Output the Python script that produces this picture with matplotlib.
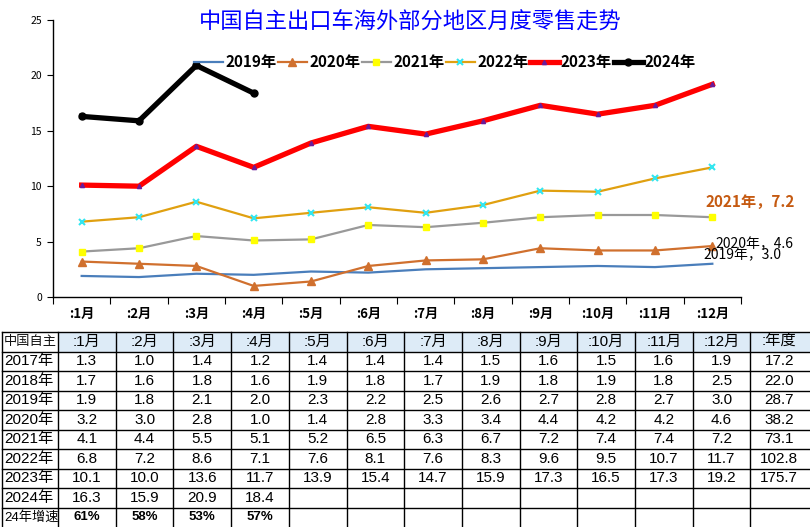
import matplotlib
matplotlib.use("Agg")
import matplotlib.pyplot as plt
import matplotlib.patches as patches
import numpy as np

plt.rcParams['font.family'] = ['Noto Sans CJK SC', 'DejaVu Sans']

# ---- data ----
months = [":1月", ":2月", ":3月", ":4月", ":5月", ":6月",
          ":7月", ":8月", ":9月", ":10月", ":11月", ":12月"]
y2017 = [1.3, 1.0, 1.4, 1.2, 1.4, 1.4, 1.4, 1.5, 1.6, 1.5, 1.6, 1.9]
y2018 = [1.7, 1.6, 1.8, 1.6, 1.9, 1.8, 1.7, 1.9, 1.8, 1.9, 1.8, 2.5]
y2019 = [1.9, 1.8, 2.1, 2.0, 2.3, 2.2, 2.5, 2.6, 2.7, 2.8, 2.7, 3.0]
y2020 = [3.2, 3.0, 2.8, 1.0, 1.4, 2.8, 3.3, 3.4, 4.4, 4.2, 4.2, 4.6]
y2021 = [4.1, 4.4, 5.5, 5.1, 5.2, 6.5, 6.3, 6.7, 7.2, 7.4, 7.4, 7.2]
y2022 = [6.8, 7.2, 8.6, 7.1, 7.6, 8.1, 7.6, 8.3, 9.6, 9.5, 10.7, 11.7]
y2023 = [10.1, 10.0, 13.6, 11.7, 13.9, 15.4, 14.7, 15.9, 17.3, 16.5, 17.3, 19.2]
y2024 = [16.3, 15.9, 20.9, 18.4]
annual = ["17.2", "22.0", "28.7", "38.2", "73.1", "102.8", "175.7"]
growth_2024 = ["61%", "58%", "53%", "57%"]
row_labels = ["2017年", "2018年", "2019年", "2020年", "2021年",
              "2022年", "2023年", "2024年", "24年增速"]

fig = plt.figure(figsize=(8.1, 5.27), dpi=100)
W, H = 810, 527

# ---- line chart ----
ax = fig.add_axes([53 / W, 1 - 297 / H, (741 - 53) / W, (297 - 20) / H])
x = np.arange(len(months))

series = [
    ("2019年", y2019, dict(color="#4a7ebb", lw=1.6)),
    ("2020年", y2020, dict(color="#d0702e", lw=1.6, marker="^", ms=6)),
    ("2021年", y2021, dict(color="#999999", lw=1.6, marker="s", ms=5,
                          mfc="#ffff00", mec="#ffff00")),
    ("2022年", y2022, dict(color="#e0a010", lw=1.6, marker="x", ms=4,
                          mec="#33e6f0", mew=1.5)),
    ("2023年", y2023, dict(color="#ff0000", lw=3.8, marker="^", ms=3,
                          mfc="#6a1b9a", mec="#6a1b9a")),
    ("2024年", y2024, dict(color="#000000", lw=3.8, marker="o", ms=5)),
]
for name, vals, style in series:
    ax.plot(x[:len(vals)], vals, label=name, **style)

ax.set_xlim(-0.5, len(months) - 0.5)
ax.set_ylim(0, 25)
ax.set_yticks([0, 5, 10, 15, 20, 25])
ax.tick_params(axis="y", labelsize=7.5, length=4, direction="out", pad=4)
ax.set_xticks(np.arange(-0.5, len(months)), labels=[""] * (len(months) + 1))
ax.set_xticks(x, labels=months, minor=True)
ax.tick_params(axis="x", which="major", length=5, direction="out")
ax.tick_params(axis="x", which="minor", length=0, labelsize=9.5, pad=7)
for lab in ax.get_xticklabels(minor=True):
    lab.set_fontweight("bold")
for s in ("top", "right"):
    ax.spines[s].set_visible(False)
for s in ("left", "bottom"):
    ax.spines[s].set_linewidth(1.0)

fig.text(410 / W, 1 - 22 / H, "中国自主出口车海外部分地区月度零售走势",
         color="#0000ff", fontsize=16, ha="center", va="center")

leg = ax.legend(loc="center", bbox_to_anchor=(445 / W, 1 - 62 / H),
                bbox_transform=fig.transFigure, ncol=6, frameon=False,
                handlelength=1.9, handletextpad=0.15, columnspacing=0.1,
                prop=dict(size=11, weight="bold"), borderpad=0)

# data labels at December (the 2019/2020 labels overlap, as in the original)
ax.annotate("2021年，7.2", (x[-1], y2021[-1]), xytext=(27, 11),
            textcoords="offset points", ha="center", va="center",
            color="#c55a11", fontsize=11, fontweight="bold")
ax.annotate("2020年，4.6", (x[-1], y2020[-1]), xytext=(30, 1),
            textcoords="offset points", ha="center", va="center",
            color="black", fontsize=10)
ax.annotate("2019年，3.0", (x[-1], y2019[-1]), xytext=(22, 6),
            textcoords="offset points", ha="center", va="center",
            color="black", fontsize=10)

# ---- table ----
tab = fig.add_axes([0, 0, 1, 1], zorder=-1)
tab.set_xlim(0, W)
tab.set_ylim(H, 0)
tab.axis("off")

left, first_w, col_w = 2, 58, 57.7
top, row_h = 332, 19.5
n_cols = len(months) + 1
col_edges = [left, first_w] + [first_w + col_w * (i + 1) for i in range(n_cols)]
n_rows = len(row_labels) + 1
row_edges = [top + row_h * i for i in range(n_rows + 1)]

tab.add_patch(patches.Rectangle((first_w, top), W - first_w, row_h,
                                facecolor="#ddebf7", edgecolor="none"))
for yy in row_edges[:-1]:
    tab.plot([left, W], [yy, yy], color="black", lw=1.0)
for xx in col_edges[:-1]:
    tab.plot([xx, xx], [top, H], color="black", lw=1.0)

tfont = ["Liberation Sans", "Noto Sans CJK SC"]
header = months + [":年度"]
tab.text(left + 2, top + row_h / 2, "中国自主", fontsize=9.5,
         ha="left", va="center", color="#111111")
for j, h in enumerate(header):
    cx = first_w + col_w * (j + 0.5)
    tab.text(cx, top + row_h / 2, h, fontsize=11, ha="center", va="center",
             family=tfont)

full_rows = [y2017, y2018, y2019, y2020, y2021, y2022, y2023]
for i, lab in enumerate(row_labels):
    cy = top + row_h * (i + 1.5)
    tab.text(left + 2, cy, lab, fontsize=9.5 if lab.startswith("24") else 11,
             ha="left", va="center", family=tfont)
    if i < len(full_rows):
        cells = [f"{v:.1f}" for v in full_rows[i]] + [annual[i]]
        weight = "normal"
    elif lab == "2024年":
        cells = [f"{v:.1f}" for v in y2024]
        weight = "normal"
    else:
        cells = growth_2024
        weight = "bold"
    for j, c in enumerate(cells):
        cx = first_w + col_w * (j + 0.5)
        tab.text(cx, cy, c, fontsize=11 if weight == "normal" else 9.5,
                 fontweight=weight, ha="center", va="center", family=tfont)

fig.savefig("out.png", dpi=100)
